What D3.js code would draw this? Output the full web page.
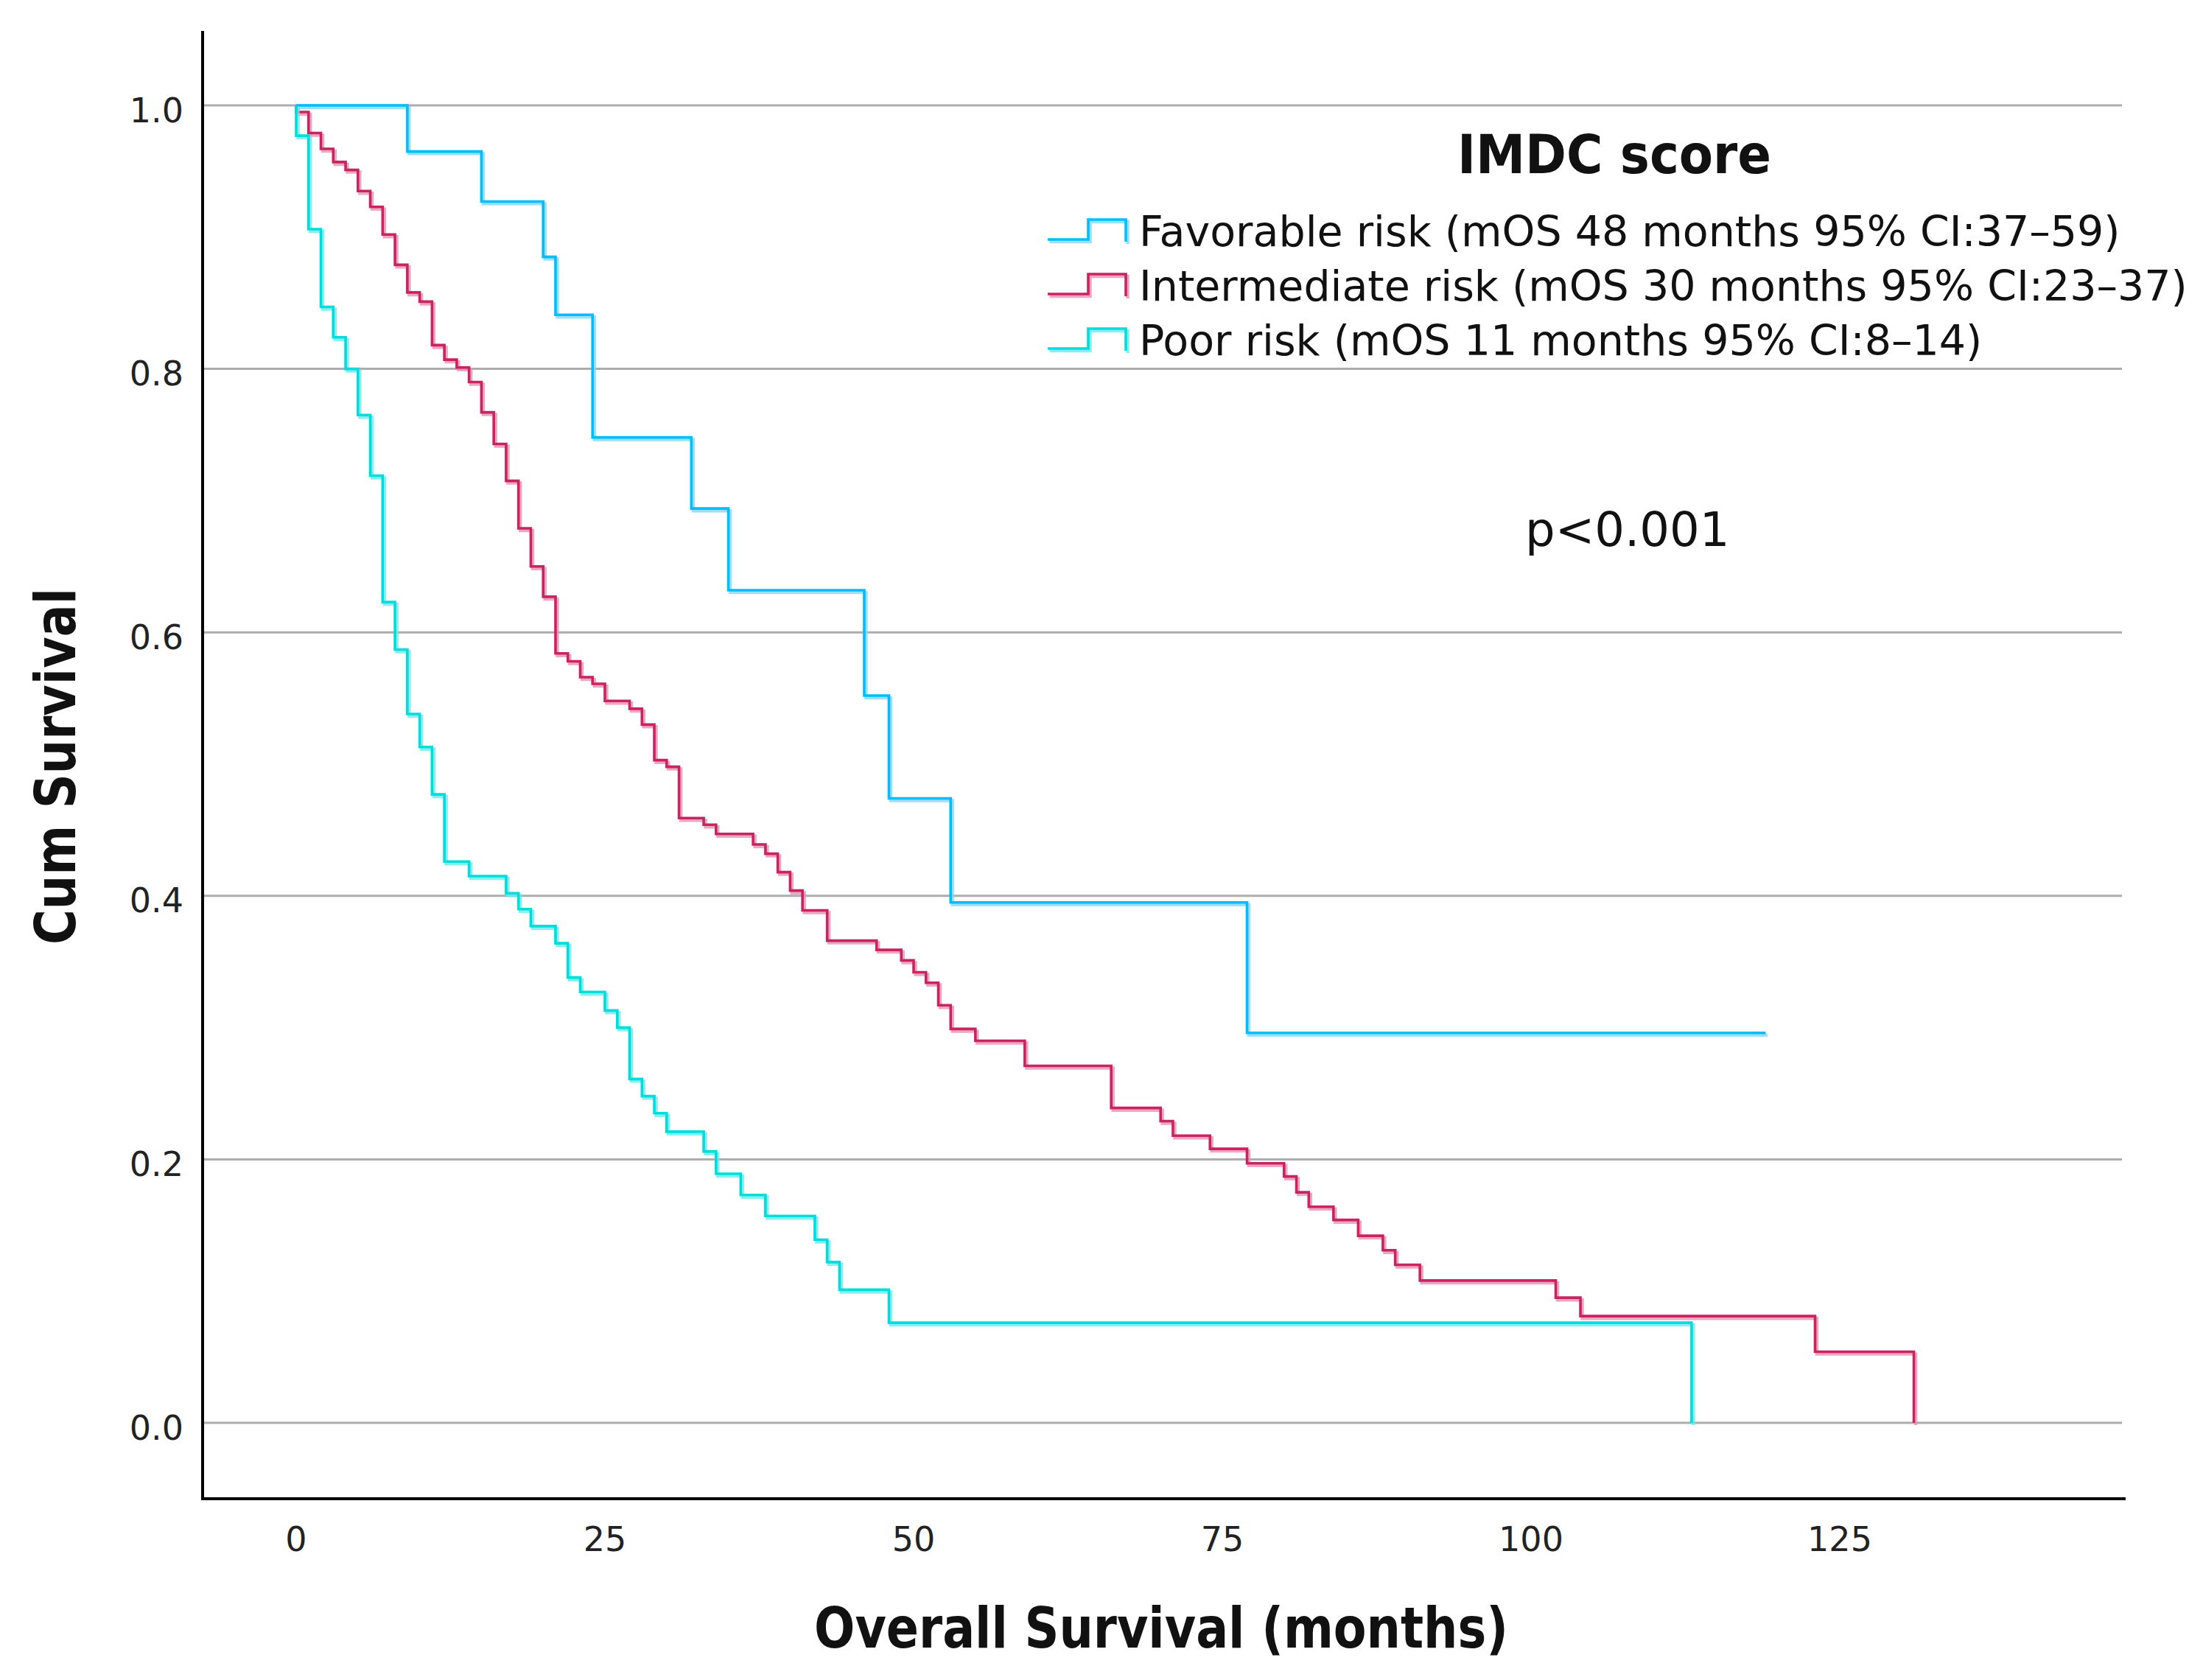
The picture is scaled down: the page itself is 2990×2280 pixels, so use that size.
<!DOCTYPE html>
<html>
<head>
<meta charset="utf-8">
<script src="https://cdn.jsdelivr.net/npm/d3@7"></script>
<style>
  html, body { margin: 0; padding: 0; background: #fff; }
</style>
</head>
<body>
<div id="chart"></div>
<script>
// Kaplan-Meier steps (months, cumulative survival)
const favorableTime = [0, 9, 15, 20, 21, 24, 32, 35, 46, 48, 53, 77, 119];
const favorableSurv = [1, 0.965, 0.927, 0.885, 0.841, 0.748, 0.694, 0.632, 0.552, 0.474, 0.395, 0.296, 0.296];

const intermediateTime = [0, 0, 1, 2, 3, 4, 5, 6, 7, 8, 9, 10, 11, 12, 13, 14, 15, 16, 17, 18, 19, 20,
  21, 22, 23, 24, 25, 27, 28, 29, 30, 31, 33, 34, 37, 38, 39, 40, 41, 43, 47, 49, 50, 51, 52, 53,
  55, 59, 66, 70, 71, 74, 77, 80, 81, 82, 84, 86, 88, 89, 91, 102, 104, 123, 131];
const intermediateSurv = [1, 0.995, 0.979, 0.967, 0.957, 0.951, 0.935, 0.923, 0.902, 0.879, 0.858, 0.851,
  0.818, 0.807, 0.801, 0.790, 0.767, 0.743, 0.715, 0.679, 0.650, 0.627, 0.584, 0.578, 0.566, 0.561,
  0.548, 0.542, 0.530, 0.503, 0.498, 0.459, 0.454, 0.447, 0.439, 0.432, 0.418, 0.404, 0.389, 0.366,
  0.359, 0.351, 0.342, 0.334, 0.317, 0.299, 0.290, 0.271, 0.239, 0.229, 0.218, 0.208, 0.197, 0.187,
  0.175, 0.164, 0.154, 0.142, 0.131, 0.120, 0.108, 0.095, 0.081, 0.054, 0];

const poorTime = [0, 0, 1, 2, 3, 4, 5, 6, 7, 8, 9, 10, 11, 12, 14, 17, 18, 19, 21, 22, 23, 25, 26,
  27, 28, 29, 30, 33, 34, 36, 38, 42, 43, 44, 48, 113];
const poorSurv = [1, 0.977, 0.906, 0.847, 0.824, 0.800, 0.765, 0.719, 0.623, 0.587, 0.538, 0.513,
  0.477, 0.426, 0.415, 0.402, 0.390, 0.377, 0.364, 0.338, 0.327, 0.313, 0.300, 0.261, 0.248, 0.235,
  0.221, 0.206, 0.189, 0.173, 0.157, 0.139, 0.122, 0.101, 0.076, 0];

const groupLabels = [
  "Favorable risk (mOS 48 months 95% CI:37–59)",
  "Intermediate risk (mOS 30 months 95% CI:23–37)",
  "Poor risk (mOS 11 months 95% CI:8–14)"
];
const xTicks = [0, 25, 50, 75, 100, 125];
const yTicks = [0, 0.2, 0.4, 0.6, 0.8, 1.0];

const lineColors = ["#00bdfc", "#c92460", "#00dcdc"];
const ghostColors = ["#80d9ff", "#e890b0", "#66ecec"];

const W = 2990, H = 2280;
const frame = { left: 275, right: 2885, top: 42, bottom: 2034 };
const font = "'DejaVu Sans', sans-serif";

const svg = d3.select('#chart').append('svg')
  .attr('width', W)
  .attr('height', H)
  .attr('viewBox', `0 0 ${W} ${H}`)
  .style('display', 'block');

svg.append('rect').attr('width', W).attr('height', H).attr('fill', '#fff');

const x = d3.scaleLinear().domain([0, 125]).range([402, 2497]);
const y = d3.scaleLinear().domain([0, 1]).range([1931, 143]);

// grid lines
svg.append('g')
  .selectAll('line')
  .data(yTicks)
  .enter().append('line')
  .attr('x1', frame.left)
  .attr('x2', frame.right - 5)
  .attr('y1', d => y(d))
  .attr('y2', d => y(d))
  .attr('stroke', '#adadad')
  .attr('stroke-width', 3);

// frame: left and bottom axis lines
svg.append('path')
  .attr('d', `M${frame.left},${frame.top}V${frame.bottom}H${frame.right}`)
  .attr('fill', 'none')
  .attr('stroke', '#000')
  .attr('stroke-width', 4);

// tick labels
svg.append('g')
  .selectAll('text')
  .data(yTicks)
  .enter().append('text')
  .attr('x', 249)
  .attr('y', d => y(d) + 6)
  .attr('dy', '0.36em')
  .attr('text-anchor', 'end')
  .attr('font-family', font)
  .attr('font-size', 46)
  .attr('fill', '#222')
  .text(d => d3.format('.1f')(d));

svg.append('g')
  .selectAll('text')
  .data(xTicks)
  .enter().append('text')
  .attr('x', d => x(d))
  .attr('y', 2105)
  .attr('text-anchor', 'middle')
  .attr('font-family', font)
  .attr('font-size', 46)
  .attr('fill', '#222')
  .text(d => d);

// survival curves
const series = [
  favorableTime.map((t, i) => ({ t, s: favorableSurv[i] })),
  intermediateTime.map((t, i) => ({ t, s: intermediateSurv[i] })),
  poorTime.map((t, i) => ({ t, s: poorSurv[i] }))
];

const step = d3.line()
  .x(d => x(d.t))
  .y(d => y(d.s))
  .curve(d3.curveStepAfter);

const curves = svg.append('g');
series.forEach((pts, i) => {
  curves.append('path')
    .attr('d', step(pts))
    .attr('transform', 'translate(2.5,3)')
    .attr('fill', 'none')
    .attr('stroke', ghostColors[i])
    .attr('stroke-width', 4.5)
    .attr('opacity', 0.8);
  curves.append('path')
    .attr('d', step(pts))
    .attr('fill', 'none')
    .attr('stroke', lineColors[i])
    .attr('stroke-width', 3.6);
});

// legend
svg.append('text')
  .attr('x', 2191)
  .attr('y', 235)
  .attr('text-anchor', 'middle')
  .attr('font-family', font)
  .attr('font-weight', 'bold')
  .attr('font-size', 73)
  .attr('textLength', 426)
  .attr('lengthAdjust', 'spacingAndGlyphs')
  .attr('fill', '#111')
  .text('IMDC score');

const legend = svg.append('g')
  .selectAll('g')
  .data(groupLabels)
  .enter().append('g')
  .attr('transform', (d, i) => `translate(0,${334 + i * 74})`);

legend.append('path')
  .attr('d', 'M1422,-9H1477V-36H1528V-6')
  .attr('transform', 'translate(2.5,3)')
  .attr('fill', 'none')
  .attr('stroke', (d, i) => ghostColors[i])
  .attr('stroke-width', 4.5)
  .attr('opacity', 0.8);

legend.append('path')
  .attr('d', 'M1422,-9H1477V-36H1528V-6')
  .attr('fill', 'none')
  .attr('stroke', (d, i) => lineColors[i])
  .attr('stroke-width', 3.6);

legend.append('text')
  .attr('x', 1546)
  .attr('y', 0)
  .attr('font-family', font)
  .attr('font-size', 57)
  .attr('fill', '#111')
  .text(d => d);

svg.append('text')
  .attr('x', 2070)
  .attr('y', 741)
  .attr('font-family', font)
  .attr('font-size', 64)
  .attr('fill', '#111')
  .text('p<0.001');

// axis titles
svg.append('text')
  .attr('x', 1576)
  .attr('y', 2236)
  .attr('text-anchor', 'middle')
  .attr('font-family', font)
  .attr('font-weight', 'bold')
  .attr('font-size', 76)
  .attr('textLength', 942)
  .attr('lengthAdjust', 'spacingAndGlyphs')
  .attr('fill', '#111')
  .text('Overall Survival (months)');

svg.append('text')
  .attr('transform', 'translate(102,1040) rotate(-90)')
  .attr('text-anchor', 'middle')
  .attr('font-family', font)
  .attr('font-weight', 'bold')
  .attr('font-size', 76)
  .attr('textLength', 484)
  .attr('lengthAdjust', 'spacingAndGlyphs')
  .attr('fill', '#111')
  .text('Cum Survival');
</script>
</body>
</html>
